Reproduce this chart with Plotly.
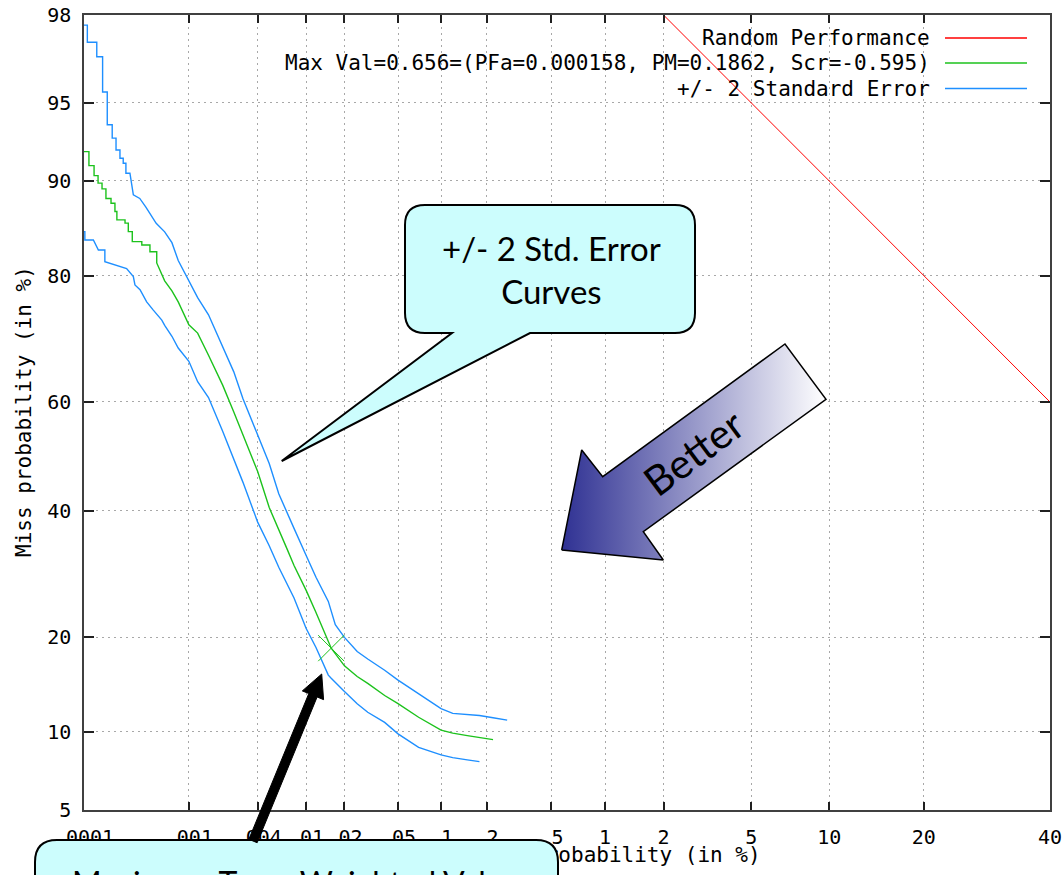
import math
import plotly.graph_objects as go
from statistics import NormalDist

# ---------------- data (all probabilities in percent) ----------------
x_tick_pct = [0.0001, 0.001, 0.004, 0.01, 0.02, 0.05, 0.1, 0.2, 0.5, 1, 2, 5, 10, 20, 40]
x_tick_labels = [".0001", ".001", ".004", ".01", ".02", ".05", ".1", ".2", ".5",
                 "1", "2", "5", "10", "20", "40"]
y_tick_pct = [5, 10, 20, 40, 60, 80, 90, 95, 98]
y_tick_labels = ["5", "10", "20", "40", "60", "80", "90", "95", "98"]
x_limits_pct = [0.0001, 40]
y_limits_pct = [5, 98]

x_title = "False Alarm probability (in %)"
y_title = "Miss probability (in %)"
legend_labels = ["Random Performance",
                 "Max Val=0.656=(PFa=0.000158, PM=0.1862, Scr=-0.595)",
                 "+/- 2 Standard Error"]

random_pfa = [2, 5, 10, 20, 40]
random_pmiss = [98, 95, 90, 80, 60]

best_pfa = [0.0001, 0.000112, 0.000112, 0.000126, 0.000126, 0.000138, 0.000138, 0.000151,
            0.000151, 0.000165, 0.000165, 0.000185, 0.000185, 0.000202, 0.000202, 0.000211,
            0.000211, 0.000253, 0.000253, 0.000272, 0.000272, 0.000297, 0.000297, 0.000366,
            0.000366, 0.000437, 0.000437, 0.000506, 0.000506, 0.0006, 0.0007, 0.0008, 0.001,
            0.0012, 0.0015, 0.002, 0.0025, 0.003, 0.004, 0.005, 0.006, 0.007, 0.008, 0.01,
            0.012, 0.015, 0.0158, 0.02, 0.025, 0.03, 0.04, 0.05, 0.07, 0.1, 0.12, 0.15,
            0.18, 0.2, 0.22]
best_pmiss = [92.19, 92.19, 91.20, 91.20, 90.43, 90.43, 89.82, 89.82,
              89.34, 89.34, 88.49, 88.49, 88.06, 88.06, 87.27, 87.27,
              86.45, 86.45, 86.11, 86.11, 85.22, 85.22, 84.12, 84.12,
              83.74, 83.74, 82.95, 82.95, 81.6, 79.3, 77.95, 76.4, 73.0,
              71.7, 68.1, 63.0, 58.2, 54.0, 47.2, 40.6, 36.8, 33.4, 30.6, 26.7,
              23.4, 19.5, 18.62, 16.5, 15.3, 14.55, 13.3, 12.5, 11.25, 10.15, 9.9, 9.7,
              9.52, 9.44, 9.38]

upper_pfa = [0.0001, 0.000108, 0.000108, 0.000134, 0.000134, 0.000153, 0.000153, 0.00017,
             0.00017, 0.00019, 0.00019, 0.000207, 0.000207, 0.000226, 0.000226, 0.000243,
             0.000243, 0.000258, 0.000258, 0.000282, 0.000304, 0.00035, 0.0004, 0.0005,
             0.0006, 0.0007, 0.0008, 0.001, 0.0012, 0.0015, 0.002, 0.0025, 0.003, 0.004,
             0.005, 0.006, 0.007, 0.008, 0.01, 0.012, 0.015, 0.017, 0.02, 0.025, 0.03,
             0.04, 0.05, 0.07, 0.1, 0.12, 0.15, 0.18, 0.22, 0.25, 0.27]
upper_pmiss = [97.76, 97.76, 97.30, 97.30, 96.85, 96.85, 95.50, 95.50,
               93.86, 93.86, 93.07, 93.07, 92.30, 92.30, 91.73, 91.73,
               91.37, 91.37, 90.62, 90.62, 88.82, 88.5, 87.7, 86.1,
               85.2, 84.0, 81.9, 79.4, 77.0, 74.5, 69.5, 65.3, 60.6, 53.9,
               48.7, 43.1, 39.6, 36.9, 32.3, 28.7, 25.0, 21.7, 20.0, 18.2, 17.3,
               16.0, 14.9, 13.5, 12.04, 11.6, 11.5, 11.4, 11.2, 11.1, 11.0]

lower_pfa = [0.0001, 0.000102, 0.000102, 0.000124, 0.000139, 0.000161, 0.000161, 0.000207,
             0.000262, 0.000304, 0.000315, 0.000352, 0.000407, 0.00047, 0.000564, 0.0006,
             0.0007, 0.0008, 0.001, 0.0012, 0.0015, 0.002, 0.0025, 0.003, 0.004, 0.005,
             0.006, 0.007, 0.008, 0.01, 0.012, 0.015, 0.0158, 0.02, 0.025, 0.03, 0.04,
             0.05, 0.07, 0.1, 0.12, 0.15, 0.18]
lower_pmiss = [85.22, 85.22, 84.31, 84.31, 83.15, 83.15, 81.76, 81.35,
               80.9, 79.87, 78.75, 78.1, 76.4, 75.2, 73.7, 72.9,
               71.2, 69.3, 67.1, 63.6, 60.8, 54.65, 49.6, 45.2, 38.0, 33.9,
               30.3, 27.7, 25.5, 21.2, 18.7, 15.45, 15.1, 13.7, 12.5, 11.7, 10.8,
               9.84, 8.8, 8.25, 8.06, 7.9, 7.78]

maxval_pfa = [0.0158]
maxval_pmiss = [18.62]

# ---------------- helpers ----------------
ND = NormalDist()


def dev(values_pct):
    """Normal-deviate (probit) scale used by DET plots."""
    return [ND.inv_cdf(v / 100.0) for v in values_pct]


RED = "#ff0000"
GREEN = "#1cc21c"
BLUE = "#1e8fff"
CALLOUT_FILL = "#ccfdfd"
MONO = "DejaVu Sans Mono"
SANS = "Lato"

# plot-area pixel frame (figure 1062 x 875)
L, T, R, B = 84, 15, 1050, 810
PW, PH = R - L, B - T


def pp(X, Y):
    return (X - L) / PW, (B - Y) / PH


def svg_path(cmds):
    out = []
    for c in cmds:
        op, pts = c[0], c[1:]
        coords = " ".join("%.5f,%.5f" % pp(*p) for p in pts)
        out.append(op + coords)
    return " ".join(out) + " Z"


def rounded_callout(x0, y0, x1, y1, r, tail=None):
    cmds = [("M", (x0 + r, y0)), ("L", (x1 - r, y0)), ("Q", (x1, y0), (x1, y0 + r)),
            ("L", (x1, y1 - r)), ("Q", (x1, y1), (x1 - r, y1))]
    if tail:
        for p in tail:
            cmds.append(("L", p))
    cmds += [("L", (x0 + r, y1)), ("Q", (x0, y1), (x0, y1 - r)),
             ("L", (x0, y0 + r)), ("Q", (x0, y0), (x0 + r, y0))]
    return svg_path(cmds)


def block_arrow(tail, tip, shaft_hw, head_len, head_hw):
    dx, dy = tip[0] - tail[0], tip[1] - tail[1]
    n = math.hypot(dx, dy)
    ux, uy = dx / n, dy / n
    px_, py_ = -uy, ux
    bx, by = tip[0] - ux * head_len, tip[1] - uy * head_len
    pts = [(tail[0] + px_ * shaft_hw, tail[1] + py_ * shaft_hw),
           (bx + px_ * shaft_hw, by + py_ * shaft_hw),
           (bx + px_ * head_hw, by + py_ * head_hw),
           tip,
           (bx - px_ * head_hw, by - py_ * head_hw),
           (bx - px_ * shaft_hw, by - py_ * shaft_hw),
           (tail[0] - px_ * shaft_hw, tail[1] - py_ * shaft_hw)]
    return svg_path([("M", pts[0])] + [("L", p) for p in pts[1:]])


# ---------------- figure ----------------
fig = go.Figure()

fig.add_trace(go.Scatter(x=dev(random_pfa), y=dev(random_pmiss), mode="lines",
                         name=legend_labels[0], line=dict(color=RED, width=1)))
fig.add_trace(go.Scatter(x=dev(best_pfa), y=dev(best_pmiss), mode="lines",
                         name=legend_labels[1], line=dict(color=GREEN, width=1.4)))
fig.add_trace(go.Scatter(x=dev(upper_pfa), y=dev(upper_pmiss), mode="lines",
                         name=legend_labels[2], line=dict(color=BLUE, width=1.4)))
fig.add_trace(go.Scatter(x=dev(lower_pfa), y=dev(lower_pmiss), mode="lines",
                         name=legend_labels[2], showlegend=False,
                         line=dict(color=BLUE, width=1.4)))
fig.add_trace(go.Scatter(x=dev(maxval_pfa), y=dev(maxval_pmiss), mode="markers",
                         showlegend=False, cliponaxis=False,
                         marker=dict(symbol="x-thin", size=26,
                                     line=dict(width=1, color=GREEN))))

# decorative "Better" block arrow with gradient (pixel overlay axes)
better_x = [561.7, 581.7, 602.7, 785, 826, 643.3, 663.3, 561.7]
better_y = [550, 450, 476.7, 344, 399.3, 531.7, 560, 550]
fig.add_trace(go.Scatter(x=better_x, y=better_y, xaxis="x2", yaxis="y2",
                         mode="lines", fill="toself", showlegend=False,
                         hoverinfo="skip",
                         line=dict(color="black", width=1.5),
                         fillgradient=dict(type="horizontal",
                                           colorscale=[[0, "#2f3193"], [1, "#ffffff"]])))

axis_common = dict(showline=True, linecolor="#404040", linewidth=1.5, mirror="ticks",
                   ticks="inside", tickcolor="#202020", tickwidth=1.5,
                   showgrid=True, gridcolor="#a8a8a8", gridwidth=1, griddash="2px,4px",
                   zeroline=False, tickangle=0, automargin=False,
                   ticklabeloverflow="allow",
                   tickfont=dict(family=MONO, size=20, color="black"))

fig.update_layout(
    width=1062, height=875, autosize=False,
    margin=dict(l=L, r=1062 - R, t=T, b=875 - B, autoexpand=False),
    paper_bgcolor="white", plot_bgcolor="white",
    showlegend=False,
    xaxis=dict(range=dev(x_limits_pct), tickvals=dev(x_tick_pct), ticktext=x_tick_labels,
               ticklen=8, ticklabelstandoff=8, **axis_common),
    yaxis=dict(range=dev(y_limits_pct), tickvals=dev(y_tick_pct), ticktext=y_tick_labels,
               ticklen=10, ticklabelstandoff=7, **axis_common),
    # pixel-unit overlay axis; it also carries the x-axis title as its label so the
    # bottom callout box (a shape) can sit on top of it, as in the original slide
    xaxis2=dict(range=[L, R], overlaying="x", side="bottom", fixedrange=True,
                automargin=False, showline=False, showgrid=False, zeroline=False,
                ticks="", tickvals=[571], ticktext=[x_title], tickangle=0,
                ticklabelstandoff=30, ticklabeloverflow="allow",
                tickfont=dict(family=MONO, size=21, color="black")),
    yaxis2=dict(range=[B, T], overlaying="y", visible=False, fixedrange=True,
                automargin=False),
)

shapes = []
# legend line samples
for yy, col in zip([38, 63, 88.5], [RED, GREEN, BLUE]):
    x0, y0 = pp(945, yy)
    x1, _ = pp(1027, yy)
    shapes.append(dict(type="line", xref="paper", yref="paper", x0=x0, x1=x1, y0=y0, y1=y0,
                       line=dict(color=col, width=1.5), layer="above"))

# callout: +/- 2 Std. Error Curves
shapes.append(dict(type="path", xref="paper", yref="paper", layer="above",
                   path=rounded_callout(405, 205, 695, 333, 20,
                                        tail=[(530, 333), (281.7, 461), (452, 333)]),
                   fillcolor=CALLOUT_FILL, line=dict(color="black", width=2)))
# callout at the bottom (box runs off the page)
shapes.append(dict(type="path", xref="paper", yref="paper", layer="above",
                   path=svg_path([("M", (35, 905)), ("L", (35, 862)),
                                  ("Q", (35, 840), (57, 840)), ("L", (536, 840)),
                                  ("Q", (558, 840), (558, 862)), ("L", (558, 905))]),
                   fillcolor=CALLOUT_FILL, line=dict(color="black", width=2)))
# thick black pointer arrow
shapes.append(dict(type="path", xref="paper", yref="paper", layer="above",
                   path=block_arrow((253, 841), (321.7, 674), 4.5, 23, 11.5),
                   fillcolor="black", line=dict(color="black", width=1)))
fig.update_layout(shapes=shapes)

ann = []
# legend texts
for yy, txt in zip([38, 63.5, 89], legend_labels):
    x, y = pp(932, yy)
    ann.append(dict(x=x, y=y, xref="paper", yref="paper", text=txt, showarrow=False,
                    xanchor="right", yanchor="middle",
                    font=dict(family=MONO, size=21, color="black")))
# y-axis title
x, y = pp(24, 412)
ann.append(dict(x=x, y=y, xref="paper", yref="paper", text=y_title,
                showarrow=False, textangle=-90, xanchor="center", yanchor="middle",
                font=dict(family=MONO, size=21, color="black")))
# callout texts
x, y = pp(551, 269)
ann.append(dict(x=x, y=y, xref="paper", yref="paper", text="+/- 2 Std. Error<br>Curves",
                showarrow=False, xanchor="center", yanchor="middle", align="center",
                font=dict(family=SANS, size=33, color="black")))
x, y = pp(693, 452)
ann.append(dict(x=x, y=y, xref="paper", yref="paper", text="Better", showarrow=False,
                textangle=-36.7, xanchor="center", yanchor="middle",
                font=dict(family=SANS, size=41, color="black")))
x, y = pp(296, 882)
ann.append(dict(x=x, y=y, xref="paper", yref="paper", text="Maximum Term-Weighted Value",
                showarrow=False, xanchor="center", yanchor="middle",
                font=dict(family=SANS, size=32, color="black")))
fig.update_layout(annotations=ann)

fig.write_html("out.html",
               config={"displayModeBar": False},
               post_script="document.body.style.margin='0';"
                           "document.body.style.overflow='hidden';")
